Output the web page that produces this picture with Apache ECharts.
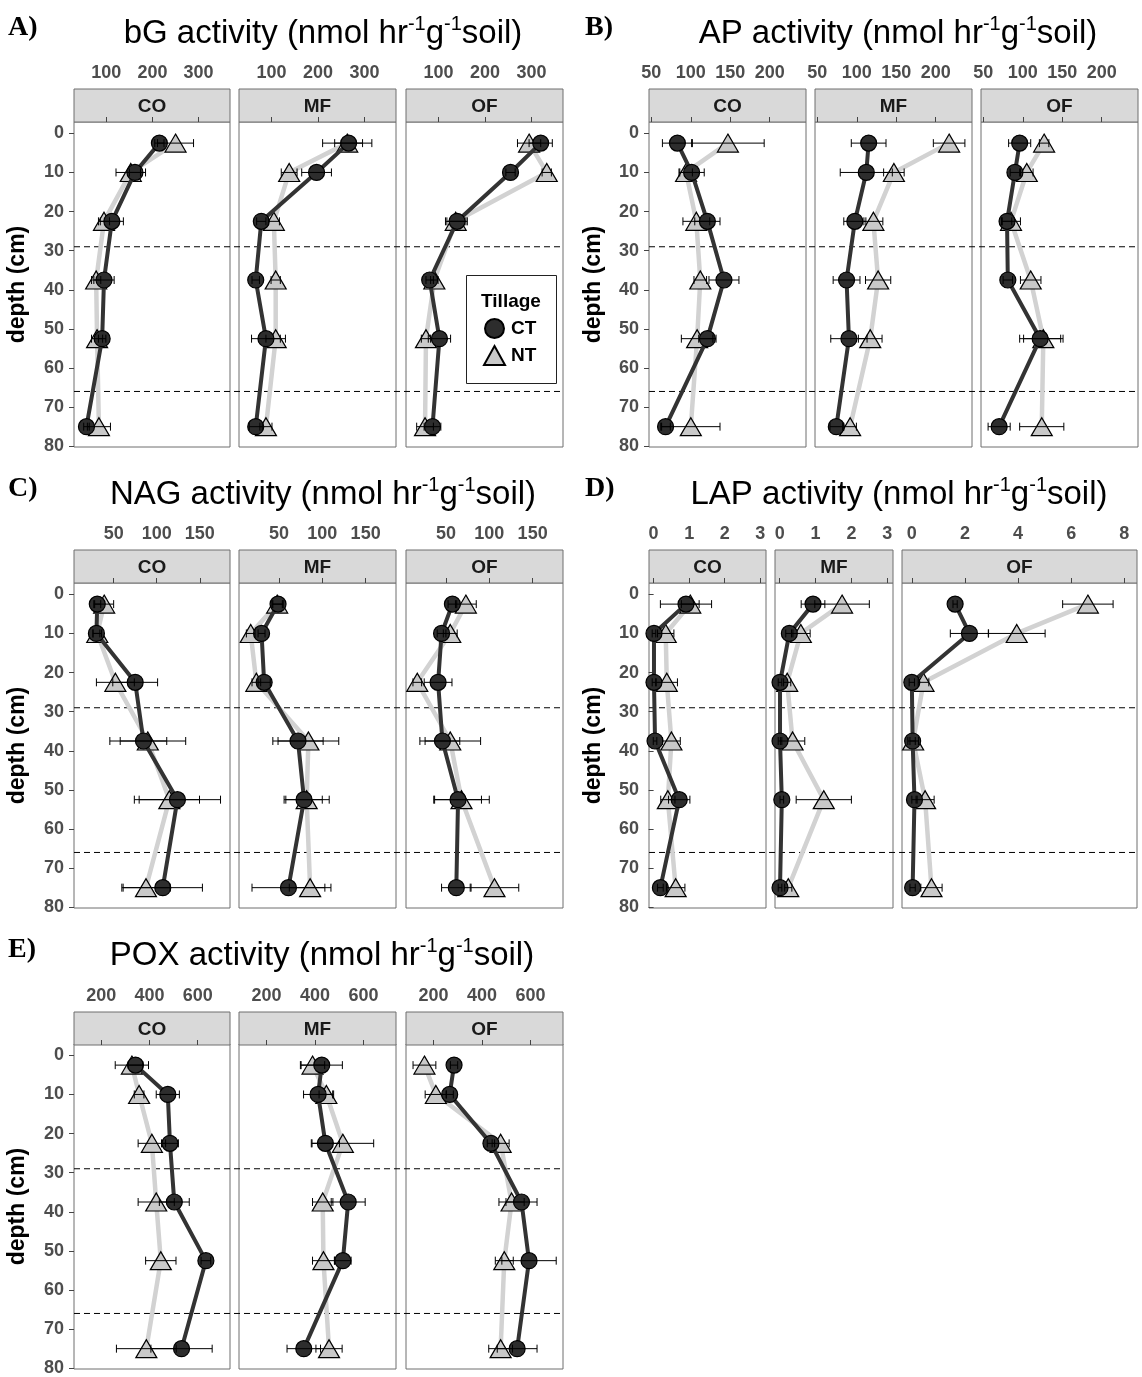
<!DOCTYPE html>
<html>
<head>
<meta charset="utf-8">
<script src="https://cdn.jsdelivr.net/npm/echarts@6/dist/echarts.min.js"></script>
<style>
html,body{margin:0;padding:0;background:#ffffff;}
#chart{width:1142px;height:1377px;}
</style>
</head>
<body>
<div id="chart"></div>
<script>
// ================= DATA =================
const depths = [2.5, 10, 22.5, 37.5, 52.5, 75];
const siteNames = ['CO', 'MF', 'OF'];
const boundaryDepths = [29, 66];
const depthTicks = [0, 10, 20, 30, 40, 50, 60, 70, 80];

const bGTicks = [100, 200, 300];
const APTicks = [50, 100, 150, 200];
const NAGTicks = [50, 100, 150];
const LAPTicks = [0, 1, 2, 3];
const LAPTicksOF = [0, 2, 4, 6, 8];
const POXTicks = [200, 400, 600];

// bG
const bG_CO_CT = [215, 162, 112, 95, 91, 57];
const bG_CO_CT_se = [10, 12, 25, 22, 8, 6];
const bG_CO_NT = [250, 153, 95, 78, 80, 84];
const bG_CO_NT_se = [39, 32, 12, 10, 12, 25];
const bG_MF_CT = [266, 197, 78, 66, 88, 66];
const bG_MF_CT_se = [30, 32, 10, 8, 31, 14];
const bG_MF_NT = [263, 138, 105, 109, 109, 88];
const bG_MF_NT_se = [53, 17, 12, 10, 21, 13];
const bG_OF_CT = [320, 255, 140, 81, 102, 87];
const bG_OF_CT_se = [25, 10, 22, 8, 24, 18];
const bG_OF_NT = [295, 333, 137, 91, 73, 71];
const bG_OF_NT_se = [25, 10, 22, 8, 10, 18];

// AP
const AP_CO_CT = [83, 101, 121, 142, 121, 68];
const AP_CO_CT_se = [19, 16, 16, 19, 11, 6];
const AP_CO_NT = [147, 94, 107, 112, 108, 100];
const AP_CO_NT_se = [46, 8, 17, 8, 20, 37];
const AP_MF_CT = [115, 112, 97.5, 87, 90, 74];
const AP_MF_CT_se = [22, 33, 14, 17, 23, 8];
const AP_MF_NT = [217, 147, 121, 127, 117, 91.5];
const AP_MF_NT_se = [20, 13, 12, 16, 15, 8];
const AP_OF_CT = [96, 90, 80, 81, 122, 70];
const AP_OF_CT_se = [14, 6, 6, 6, 26, 14];
const AP_OF_NT = [127, 105, 85, 110, 126, 124];
const AP_OF_NT_se = [6, 8, 12, 13, 25, 28];

// NAG
const NAG_CO_CT = [31, 30, 75, 84.6, 124, 107];
const NAG_CO_CT_se = [4, 4, 26, 27, 50, 46];
const NAG_CO_NT = [39, 31, 52, 89.6, 114.6, 87.5];
const NAG_CO_NT_se = [11, 5, 22, 44, 35, 28];
const NAG_MF_CT = [49, 30, 33, 72, 79, 61];
const NAG_MF_CT_se = [6, 4, 7, 29, 21, 42];
const NAG_MF_NT = [48, 17.5, 24, 84, 82, 86];
const NAG_MF_NT_se = [6, 5, 5, 35, 26, 24];
const NAG_OF_CT = [57.5, 45, 41, 46, 64, 62];
const NAG_OF_CT_se = [5, 5, 16, 20, 27, 17];
const NAG_OF_NT = [73, 55, 17, 55, 68, 106];
const NAG_OF_NT_se = [12, 8, 5, 35, 32, 28];

// LAP
const LAP_CO_CT = [0.91, 0.01, 0.01, 0.04, 0.72, 0.19];
const LAP_CO_CT_se = [0.72, 0.05, 0.05, 0.05, 0.3, 0.08];
const LAP_CO_NT = [1.03, 0.34, 0.37, 0.5, 0.4, 0.62];
const LAP_CO_NT_se = [0.25, 0.23, 0.3, 0.25, 0.2, 0.26];
const LAP_MF_CT = [0.93, 0.27, 0.01, 0.01, 0.06, 0.01];
const LAP_MF_CT_se = [0.33, 0.1, 0.05, 0.05, 0.05, 0.05];
const LAP_MF_NT = [1.74, 0.59, 0.21, 0.36, 1.23, 0.24];
const LAP_MF_NT_se = [0.76, 0.26, 0.1, 0.34, 0.77, 0.1];
const LAP_OF_CT = [1.63, 2.17, 0, 0.03, 0.1, 0.03];
const LAP_OF_CT_se = [0.08, 0.72, 0.1, 0.1, 0.1, 0.1];
const LAP_OF_NT = [6.63, 3.95, 0.44, 0.05, 0.5, 0.74];
const LAP_OF_NT_se = [0.95, 1.07, 0.2, 0.2, 0.34, 0.4];

// POX
const POX_CO_CT = [342, 476, 485, 503, 634, 533];
const POX_CO_CT_se = [30, 48, 35, 62, 20, 127];
const POX_CO_NT = [327, 357, 410, 428, 447, 387];
const POX_CO_NT_se = [69, 20, 57, 75, 63, 124];
const POX_MF_CT = [428, 413, 443, 537, 515, 354];
const POX_MF_CT_se = [85, 60, 58, 70, 34, 69];
const POX_MF_NT = [390, 447, 515, 432, 435, 458];
const POX_MF_NT_se = [50, 30, 127, 42, 45, 54];
const POX_OF_CT = [285, 267, 437, 563, 594, 545];
const POX_OF_CT_se = [15, 15, 15, 64, 112, 82];
const POX_OF_NT = [163, 210, 477, 522, 492, 477];
const POX_OF_NT_se = [47, 44, 35, 52, 37, 49];

// ================= LAYOUT / STYLE =================
const FONT = '"Liberation Sans", Arial, sans-serif';
const SERIF = '"Liberation Serif", "Times New Roman", serif';
const STRIP_H = 33;
const PLOT_H = 325;
const rows = [
  {strip: 89, plot: 122, title: 32},
  {strip: 550, plot: 583, title: 493},
  {strip: 1012, plot: 1044, title: 954}
];
const colsLeft = [[74, 156], [239, 157], [406, 157]];
const colsRight = [[649, 157], [815, 157], [981, 157]];
const colsD = [[649, 117], [775, 118], [902, 235]];

const panels = [
  {name: 'bG', label: 'A)', row: 0, cols: colsLeft, titleX: 318, labelX: 8, depthX: 18,
   ticks: [bGTicks, bGTicks, bGTicks], ranges: [[30, 368], [30, 368], [30, 368]],
   CT: [bG_CO_CT, bG_MF_CT, bG_OF_CT], CTse: [bG_CO_CT_se, bG_MF_CT_se, bG_OF_CT_se],
   NT: [bG_CO_NT, bG_MF_NT, bG_OF_NT], NTse: [bG_CO_NT_se, bG_MF_NT_se, bG_OF_NT_se]},
  {name: 'AP', label: 'B)', row: 0, cols: colsRight, titleX: 893, labelX: 585, depthX: 594,
   ticks: [APTicks, APTicks, APTicks], ranges: [[47, 246], [47, 246], [47, 246]],
   CT: [AP_CO_CT, AP_MF_CT, AP_OF_CT], CTse: [AP_CO_CT_se, AP_MF_CT_se, AP_OF_CT_se],
   NT: [AP_CO_NT, AP_MF_NT, AP_OF_NT], NTse: [AP_CO_NT_se, AP_MF_NT_se, AP_OF_NT_se]},
  {name: 'NAG', label: 'C)', row: 1, cols: colsLeft, titleX: 318, labelX: 8, depthX: 18,
   ticks: [NAGTicks, NAGTicks, NAGTicks], ranges: [[4, 185], [4, 185], [4, 185]],
   CT: [NAG_CO_CT, NAG_MF_CT, NAG_OF_CT], CTse: [NAG_CO_CT_se, NAG_MF_CT_se, NAG_OF_CT_se],
   NT: [NAG_CO_NT, NAG_MF_NT, NAG_OF_NT], NTse: [NAG_CO_NT_se, NAG_MF_NT_se, NAG_OF_NT_se]},
  {name: 'LAP', label: 'D)', row: 1, cols: colsD, titleX: 894, labelX: 585, depthX: 594,
   ticks: [LAPTicks, LAPTicks, LAPTicksOF], ranges: [[-0.13, 3.16], [-0.13, 3.16], [-0.37, 8.48]],
   CT: [LAP_CO_CT, LAP_MF_CT, LAP_OF_CT], CTse: [LAP_CO_CT_se, LAP_MF_CT_se, LAP_OF_CT_se],
   NT: [LAP_CO_NT, LAP_MF_NT, LAP_OF_NT], NTse: [LAP_CO_NT_se, LAP_MF_NT_se, LAP_OF_NT_se]},
  {name: 'POX', label: 'E)', row: 2, cols: colsLeft, titleX: 317, labelX: 8, depthX: 18,
   ticks: [POXTicks, POXTicks, POXTicks], ranges: [[87, 734], [87, 734], [87, 734]],
   CT: [POX_CO_CT, POX_MF_CT, POX_OF_CT], CTse: [POX_CO_CT_se, POX_MF_CT_se, POX_OF_CT_se],
   NT: [POX_CO_NT, POX_MF_NT, POX_OF_NT], NTse: [POX_CO_NT_se, POX_MF_NT_se, POX_OF_NT_se]}
];

const CT_FILL = '#2D2D2D', CT_LINE = '#333333';
const NT_FILL = '#C9C9C9', NT_LINE = '#D2D2D2';
const BORDER = '#6E6E6E';

function renderErr(params, api) {
  const x = api.value(0), y = api.value(1), e = api.value(2);
  const a = api.coord([x - e, y]), b = api.coord([x + e, y]);
  const h = 4;
  const st = {stroke: '#000', lineWidth: 1};
  return {type: 'group', children: [
    {type: 'line', shape: {x1: a[0], y1: a[1], x2: b[0], y2: b[1]}, style: st},
    {type: 'line', shape: {x1: a[0], y1: a[1] - h, x2: a[0], y2: a[1] + h}, style: st},
    {type: 'line', shape: {x1: b[0], y1: b[1] - h, x2: b[0], y2: b[1] + h}, style: st}
  ]};
}

const grids = [], xAxes = [], yAxes = [], series = [], titles = [], graphics = [];
const firstGridOfPanel = [];
const axisFont = {fontFamily: FONT, fontWeight: 'bold', fontSize: 18, color: '#4D4D4D'};

panels.forEach((p) => {
  const row = rows[p.row];
  firstGridOfPanel.push(grids.length);
  p.cols.forEach((c, si) => {
    // plotting grid
    const gi = grids.length;
    grids.push({left: c[0], top: row.plot, width: c[1], height: PLOT_H, show: true,
      containLabel: false, outerBoundsMode: 'none',
      borderColor: BORDER, borderWidth: 1, backgroundColor: '#ffffff'});
    xAxes.push({type: 'value', gridIndex: gi, position: 'top', show: false,
      min: p.ranges[si][0], max: p.ranges[si][1], splitLine: {show: false}});
    yAxes.push({type: 'value', gridIndex: gi, inverse: true, min: -2.9, max: 80.2,
      splitLine: {show: false}, axisLine: {show: false},
      axisTick: {show: si === 0, length: 5, customValues: depthTicks, lineStyle: {color: '#444', width: 1}},
      axisLabel: Object.assign({show: si === 0, customValues: depthTicks, margin: 10}, axisFont)});

    const ntData = depths.map((d, k) => [p.NT[si][k], d]);
    const ctData = depths.map((d, k) => [p.CT[si][k], d]);
    series.push({type: 'line', name: 'NT', xAxisIndex: gi, yAxisIndex: gi, data: ntData, z: 2,
      symbol: 'triangle', symbolSize: [21, 18], silent: true,
      lineStyle: {color: NT_LINE, width: 4.5},
      itemStyle: {color: NT_FILL, borderColor: '#000', borderWidth: 1.2}});
    series.push({type: 'line', name: 'CT', xAxisIndex: gi, yAxisIndex: gi, data: ctData, z: 3,
      symbol: 'circle', symbolSize: 16, silent: true,
      lineStyle: {color: CT_LINE, width: 4},
      itemStyle: {color: CT_FILL, borderColor: '#000', borderWidth: 1.2}});
    series.push({type: 'custom', name: 'NT_err', xAxisIndex: gi, yAxisIndex: gi, z: 4, silent: true,
      renderItem: renderErr, encode: {x: 0, y: 1}, clip: false,
      data: depths.map((d, k) => [p.NT[si][k], d, p.NTse[si][k]])});
    series.push({type: 'custom', name: 'CT_err', xAxisIndex: gi, yAxisIndex: gi, z: 4, silent: true,
      renderItem: renderErr, encode: {x: 0, y: 1}, clip: false,
      data: depths.map((d, k) => [p.CT[si][k], d, p.CTse[si][k]])});

    // strip grid (carries the top x axis with ticks + labels, same scale)
    const gs = grids.length;
    grids.push({left: c[0], top: row.strip, width: c[1], height: STRIP_H, show: true,
      containLabel: false, outerBoundsMode: 'none',
      borderColor: BORDER, borderWidth: 1, backgroundColor: '#D9D9D9'});
    xAxes.push({type: 'value', gridIndex: gs, position: 'top',
      min: p.ranges[si][0], max: p.ranges[si][1],
      splitLine: {show: false}, axisLine: {show: false},
      axisTick: {show: true, length: 5, customValues: p.ticks[si], lineStyle: {color: '#444', width: 1}},
      axisLabel: Object.assign({customValues: p.ticks[si], margin: 7}, axisFont)});
    yAxes.push({type: 'value', gridIndex: gs, show: false, min: 0, max: 1});
    graphics.push({type: 'text', z: 5, x: c[0] + c[1] / 2, y: row.strip + STRIP_H / 2 + 1,
      style: {text: siteNames[si], font: 'bold 19px ' + FONT, fill: '#1A1A1A',
        textAlign: 'center', textVerticalAlign: 'middle'}});
  });

  // panel title
  titles.push({
    text: '{m|' + p.name + ' activity (nmol hr}{s|-1}{m|g}{s|-1}{m|soil)}',
    left: p.titleX, top: row.title - 23, textAlign: 'center',
    textStyle: {fontWeight: 'normal', rich: {
      m: {fontFamily: FONT, fontSize: 33, fontWeight: 'normal', color: '#000', lineHeight: 40},
      s: {fontFamily: FONT, fontSize: 20, fontWeight: 'normal', color: '#000', lineHeight: 24, verticalAlign: 'top'}
    }}
  });
  graphics.push({type: 'text', z: 5, x: p.labelX, y: row.title - 4,
    style: {text: p.label, font: 'bold 28px ' + SERIF, fill: '#000', textAlign: 'left', textVerticalAlign: 'middle'}});
  graphics.push({type: 'text', z: 5, x: p.depthX, y: row.plot + PLOT_H / 2, rotation: Math.PI / 2,
    style: {text: 'depth (cm)', font: 'bold 23px ' + FONT, fill: '#000', textAlign: 'center', textVerticalAlign: 'middle'}});
});

// legend box (inside bG / OF facet)
graphics.push({type: 'rect', z: 3, shape: {x: 466.5, y: 275.5, width: 90, height: 108},
  style: {fill: '#ffffff', stroke: '#222', lineWidth: 1}});
graphics.push({type: 'text', z: 5, x: 511, y: 302,
  style: {text: 'Tillage', font: 'bold 19px ' + FONT, fill: '#000', textAlign: 'center', textVerticalAlign: 'middle'}});

const chart = echarts.init(document.getElementById('chart'), null, {renderer: 'canvas'});
const option = {
  animation: false,
  backgroundColor: '#ffffff',
  title: titles,
  grid: grids,
  xAxis: xAxes,
  yAxis: yAxes,
  series: series,
  legend: {
    data: [{name: 'CT', icon: 'circle'}, {name: 'NT', icon: 'triangle'}],
    orient: 'vertical', left: 483, top: 318, padding: 0,
    itemWidth: 21, itemHeight: 19, itemGap: 6, selectedMode: false, z: 6,
    textStyle: {fontFamily: FONT, fontWeight: 'bold', fontSize: 19, color: '#000', padding: [0, 0, 0, 1]}
  }
};
chart.setOption(option);

// dashed horizon boundaries, spanning each panel's facets, positioned via the axis scale
panels.forEach((p, pi) => {
  const g0 = firstGridOfPanel[pi];
  const x1 = p.cols[0][0];
  const last = p.cols[p.cols.length - 1];
  const x2 = last[0] + last[1];
  boundaryDepths.forEach((d) => {
    const y = chart.convertToPixel({yAxisIndex: g0}, d);
    graphics.push({type: 'line', z: 1, shape: {x1: x1, y1: y, x2: x2, y2: y},
      style: {stroke: '#000', lineWidth: 1, lineDash: [6, 4]}});
  });
});
chart.setOption({graphic: graphics});
</script>
</body>
</html>
